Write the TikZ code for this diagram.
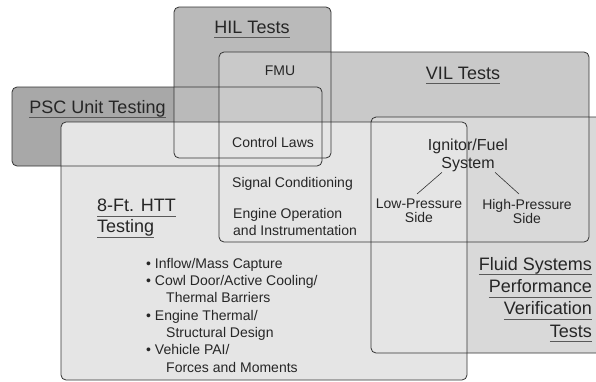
\documentclass[tikz,border=0pt]{standalone}
\usepackage{fontspec}
\setmainfont{Liberation Sans}

\definecolor{pscgray}{gray}{0.66}
\definecolor{hilgray}{gray}{0.73}
\definecolor{vilgray}{gray}{0.79}
\definecolor{fluidgray}{gray}{0.85}
\definecolor{httgray}{gray}{0.90}

\newcommand{\hdfont}{\fontsize{18}{22}\selectfont}
\newcommand{\smfont}{\fontsize{14}{17}\selectfont}
\newcommand{\ulword}[1]{\setbox0\hbox{#1}\rlap{\color{black!65}\rule[-5pt]{\wd0}{1pt}}\box0}

\begin{document}
\begin{tikzpicture}[x=1pt, y=-1pt,
  outline/.style={draw=black!80, line width=0.8pt, rounded corners=5pt},
  panel/.style={rounded corners=5pt},
  every node/.style={text=black!85}]
\useasboundingbox (0,0) rectangle (596,381);
\clip (0,0) rectangle (596,381);
\fill[white] (0,0) rectangle (596,381);

% fills, back to front
\fill[panel, fill=pscgray] (12,87) rectangle (322,166);
\fill[panel, fill=hilgray] (174,7) rectangle (331,158);
\fill[panel, fill=vilgray] (219,52) rectangle (589,242);
\fill[panel, fill=fluidgray] (371,117) rectangle (620,353);
\fill[panel, fill=httgray] (61,122) rectangle (467,380);

% outlines on top
\draw[outline] (12,87) rectangle (322,166);
\draw[outline] (174,7) rectangle (331,158);
\draw[outline] (219,52) rectangle (589,242);
\draw[outline] (371,117) rectangle (620,353);
\draw[outline] (61,122) rectangle (467,380);

\node[anchor=base] (hil) at (252,33) {\hdfont\ulword{HIL Tests}};
\node[anchor=base] (vil) at (463,79) {\hdfont\ulword{VIL Tests}};
\node[anchor=base] (psc) at (97.5,113) {\hdfont\ulword{PSC Unit Testing}};
\node[anchor=north west, inner sep=0, align=left, font=\fontsize{18}{21}\selectfont] (htt) at (97,199) {\ulword{8-Ft. HTT}\\\ulword{Testing}};

\node[anchor=base] (fmu) at (280,75) {\smfont FMU};
\node[anchor=base west, inner sep=0] (ctl) at (232,147) {\smfont Control Laws};
\node[anchor=base west, inner sep=0] (sig) at (232,187) {\smfont Signal Conditioning};
\node[anchor=north west, inner sep=0, align=left, font=\fontsize{14}{17}\selectfont] (eng) at (233,208) {Engine Operation\\and Instrumentation};

\node[anchor=north, inner sep=0, align=center, font=\fontsize{16}{18}\selectfont] (ign) at (468,139) {Ignitor/Fuel\\System};
\node[anchor=north, inner sep=0, align=center, font=\fontsize{14}{14}\selectfont] (low) at (419,199) {Low-Pressure\\Side};
\node[anchor=north, inner sep=0, align=center, font=\fontsize{14}{14}\selectfont] (high) at (527,199) {High-Pressure\\Side};
\draw[black!80, line width=0.6pt] ([xshift=-26pt]ign.south) -- ([xshift=-2pt,yshift=5pt]low.north);
\draw[black!80, line width=0.6pt] ([xshift=27pt]ign.south) -- ([xshift=-8pt,yshift=5pt]high.north);

\node[anchor=north west, inner sep=0, align=left, font=\fontsize{14}{17.3}\selectfont] (list) at (146,258)
  {\textbullet\ Inflow/Mass Capture\\
   \textbullet\ Cowl Door/Active Cooling/\\
   \hspace*{20pt}Thermal Barriers\\
   \textbullet\ Engine Thermal/\\
   \hspace*{20pt}Structural Design\\
   \textbullet\ Vehicle PAI/\\
   \hspace*{20pt}Forces and Moments};

\node[anchor=north east, inner sep=0, align=right, font=\fontsize{18}{22.3}\selectfont] (fluid) at (592,257)
  {\ulword{Fluid Systems}\\\ulword{Performance}\\\ulword{Verification}\\\ulword{Tests}};
\end{tikzpicture}
\end{document}
